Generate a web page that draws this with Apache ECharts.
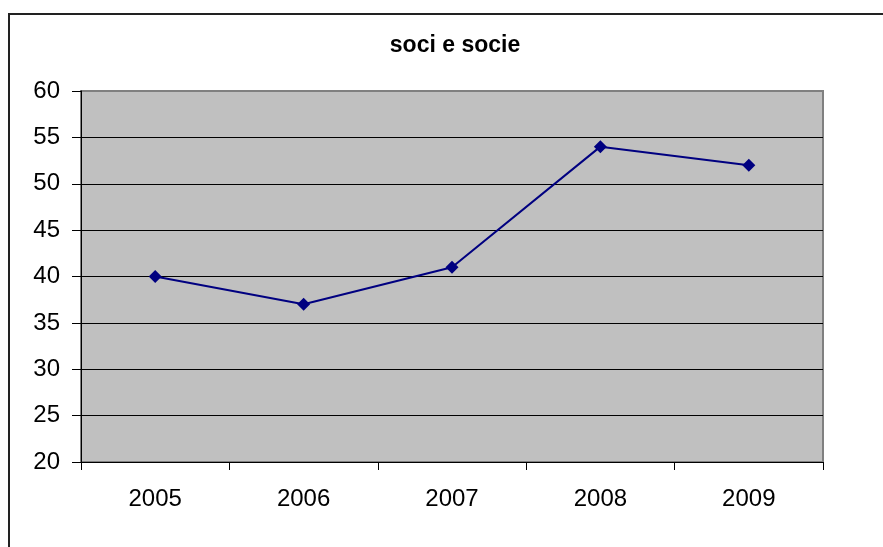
<!DOCTYPE html>
<html>
<head>
<meta charset="utf-8">
<script src="https://cdn.jsdelivr.net/npm/echarts@6/dist/echarts.min.js"></script>
<style>
  html, body { margin: 0; padding: 0; background: #fff; }
  #chart { width: 883px; height: 547px; }
</style>
</head>
<body>
<div id="chart"></div>
<script>
// Member counts per year
const years = ['2005', '2006', '2007', '2008', '2009'];
const members = [40, 37, 41, 54, 52];
const yMin = 20, yMax = 60, yStep = 5;

const chart = echarts.init(document.getElementById('chart'), null, { renderer: 'canvas' });

chart.setOption({
  animation: false,
  backgroundColor: '#ffffff',
  title: {
    text: 'soci e socie',
    left: 450,
    top: 29,
    textAlign: 'center',
    textStyle: { fontFamily: 'Liberation Sans, Arial, sans-serif', fontWeight: 'bold', fontSize: 23, color: '#000' }
  },
  graphic: [{
    type: 'rect',
    shape: { x: 9, y: 14, width: 900, height: 560 },
    style: { fill: 'none', stroke: '#222', lineWidth: 2 },
    silent: true
  }],
  grid: {
    left: 81, top: 91, right: 60, bottom: 85,
    show: true,
    backgroundColor: '#c0c0c0',
    borderColor: '#808080',
    borderWidth: 2
  },
  xAxis: {
    type: 'category',
    data: years,
    boundaryGap: true,
    axisLine: { lineStyle: { color: '#000', width: 1 } },
    axisTick: { show: true, length: 8, lineStyle: { color: '#000' }, alignWithLabel: false },
    axisLabel: { fontFamily: 'Liberation Sans, Arial, sans-serif', fontSize: 24, color: '#000', margin: 25 },
    splitLine: { show: false }
  },
  yAxis: {
    type: 'value',
    min: yMin, max: yMax, interval: yStep,
    axisLine: { show: true, lineStyle: { color: '#000', width: 1 } },
    axisTick: { show: true, length: 9, lineStyle: { color: '#000' } },
    axisLabel: { fontFamily: 'Liberation Sans, Arial, sans-serif', fontSize: 24, color: '#000', margin: 21 },
    splitLine: { show: true, showMaxLine: false, lineStyle: { color: '#000', width: 1 } }
  },
  series: [{
    type: 'line',
    data: members,
    symbol: 'diamond',
    symbolSize: 13,
    itemStyle: { color: '#000080' },
    lineStyle: { color: '#000080', width: 2 }
  }]
});
</script>
</body>
</html>
